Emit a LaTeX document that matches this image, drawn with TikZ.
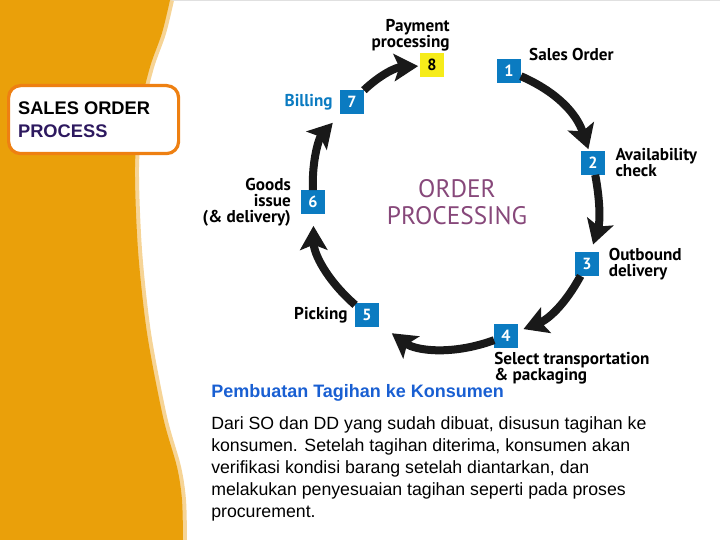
\documentclass[tikz,border=0pt]{standalone}
\usepackage{fontspec}
\setmainfont{Liberation Sans}
\newfontfamily\lblfont{PT Sans}
\usepackage{tikz}
\usetikzlibrary{positioning}
\usetikzlibrary{arrows.meta}

\definecolor{bandorange}{RGB}{234,160,10}
\definecolor{bandpale}{RGB}{246,212,150}
\definecolor{boxorange}{RGB}{238,128,18}
\definecolor{stepblue}{RGB}{11,123,193}
\definecolor{payyellow}{RGB}{246,236,26}
\definecolor{titlepurple}{RGB}{135,72,122}
\definecolor{darkpurple}{RGB}{45,25,95}
\definecolor{headblue}{RGB}{25,95,210}

\tikzset{
  badge/.style={fill=stepblue, text=white, minimum size=0.58cm, inner sep=0pt,
    font=\lblfont\bfseries\fontsize{11.5}{11.5}\selectfont},
  lbl/.style={inner sep=0pt, font=\lblfont\bfseries\fontsize{12.2}{11.4}\selectfont},
  flow/.style={line width=0.2cm, black!90,
    -{Stealth[length=0.6cm, width=0.68cm, inset=0.13cm]}}
}

\begin{document}
\begin{tikzpicture}
      \useasboundingbox (0,0) rectangle (18,13.5);
      \draw[black!12] (0,0) rectangle (18,13.5);
      %%%%%%%%%%%%%%%%%%%%%%%%%%%%%%%%%%%%%%%%%%%%%%%%%%%%%%%%%%%%%%%%%%%%%%%%%%
      %%% BEGIN: SIDE BAND.
      %%%%%%%%%%%%%%%%%%%%%%%%%%%%%%%%%%%%%%%%%%%%%%%%%%%%%%%%%%%%%%%%%%%%%%%%%%
      \draw[bandpale, line width=0.2cm] plot[smooth] coordinates {(4.25,13.5) (4.05,12.675) (3.75,11.825)
        (3.5,10.75) (3.375,9.325) (3.45,7.25) (3.675,5.175) (4.075,3.075) (4.425,1.825) (4.55,1.0) (4.575,0)};
      \fill[bandorange] (0,13.5) -- plot[smooth] coordinates {(4.25,13.5) (4.05,12.675) (3.75,11.825)
        (3.5,10.75) (3.375,9.325) (3.45,7.25) (3.675,5.175) (4.075,3.075) (4.425,1.825) (4.55,1.0) (4.575,0)}
        -- (0,0) -- cycle;

      % Title box.
      \node[draw=boxorange, line width=0.08cm, fill=white, rounded corners=0.3cm,
        minimum width=4.25cm, minimum height=1.7cm, anchor=north west] (titlebox) at (0.175,11.4) {};
      \node[anchor=west, align=left, inner sep=0pt, font=\bfseries\fontsize{13}{16.5}\selectfont]
        (title) at ([xshift=0.27cm]titlebox.west) {SALES ORDER\\\textcolor{darkpurple}{PROCESS}};
      %%%%%%%%%%%%%%%%%%%%%%%%%%%%%%%%%%%%%%%%%%%%%%%%%%%%%%%%%%%%%%%%%%%%%%%%%%
      %%% END: SIDE BAND.
      %%%%%%%%%%%%%%%%%%%%%%%%%%%%%%%%%%%%%%%%%%%%%%%%%%%%%%%%%%%%%%%%%%%%%%%%%%

      %%%%%%%%%%%%%%%%%%%%%%%%%%%%%%%%%%%%%%%%%%%%%%%%%%%%%%%%%%%%%%%%%%%%%%%%%%
      %%% BEGIN: ORDER CYCLE.
      %%%%%%%%%%%%%%%%%%%%%%%%%%%%%%%%%%%%%%%%%%%%%%%%%%%%%%%%%%%%%%%%%%%%%%%%%%
      % Step badges.
      \foreach \n/\x/\y in {1/12.725/11.725, 2/14.825/9.425, 3/14.675/6.9, 4/12.65/5.1,
                            5/9.175/5.625, 6/7.825/8.45, 7/8.8/10.95}{
        \node[badge] (b\n) at (\x,\y) {\n};
      }
      \node[badge, fill=payyellow, text=black] (b8) at (10.8,11.875) {8};

      % Step labels.
      \node[lbl, align=right, anchor=south east] (l8) at ([xshift=0.15cm, yshift=0.05cm]b8.north east) {Payment\\processing};
      \node[lbl, anchor=south west] (l1) at ([xshift=0.2cm, yshift=-0.05cm]b1.north east) {Sales Order};
      \node[lbl, align=left, right=0.26cm of b2] (l2) {Availability\\check};
      \node[lbl, align=left, right=0.24cm of b3] (l3) {Outbound\\delivery};
      \node[lbl, align=left, anchor=north west] (l4) at ([yshift=-0.1cm]b4.south west) {Select transportation\\\& packaging};
      \node[lbl, left=0.18cm of b5] (l5) {Picking};
      \node[lbl, align=right, left=0.25cm of b6] (l6) {Goods\\issue\\(\& delivery)};
      \node[lbl, text=stepblue, left=0.18cm of b7] (l7) {Billing};

      \node[inner sep=0pt, align=center, text=titlepurple, font=\lblfont\fontsize{18}{19.5}\selectfont]
        (cycle) at (11.425,8.45) {ORDER\\PROCESSING};

      % Arrows between steps.
      \foreach \a/\b/\bend/\gap in {1/2/24/0.05cm, 2/3/14/0.2cm, 3/4/20/0.15cm, 4/5/28/0.4cm,
                                    5/6/24/0.3cm, 6/7/22/0.3cm, 7/8/20/0.05cm}{
        \draw[flow, shorten >=\gap] (b\a) to[bend left=\bend] (b\b);
      }
      %%%%%%%%%%%%%%%%%%%%%%%%%%%%%%%%%%%%%%%%%%%%%%%%%%%%%%%%%%%%%%%%%%%%%%%%%%
      %%% END: ORDER CYCLE.
      %%%%%%%%%%%%%%%%%%%%%%%%%%%%%%%%%%%%%%%%%%%%%%%%%%%%%%%%%%%%%%%%%%%%%%%%%%

      % Explanation text.
      \node[anchor=west, inner sep=0pt, text=headblue, font=\bfseries\fontsize{12.8}{14}\selectfont]
        (head) at (5.275,3.675) {Pembuatan Tagihan ke Konsumen};
      \node[anchor=north west, inner sep=0pt, align=left, font=\fontsize{12.6}{15.5}\selectfont]
        (body) at (5.275,3.08) {Dari SO dan DD yang sudah dibuat, disusun tagihan ke\\
        konsumen. Setelah tagihan diterima, konsumen akan\\
        verifikasi kondisi barang setelah diantarkan, dan\\
        melakukan penyesuaian tagihan seperti pada proses\\
        procurement.};
\end{tikzpicture}
\end{document}
